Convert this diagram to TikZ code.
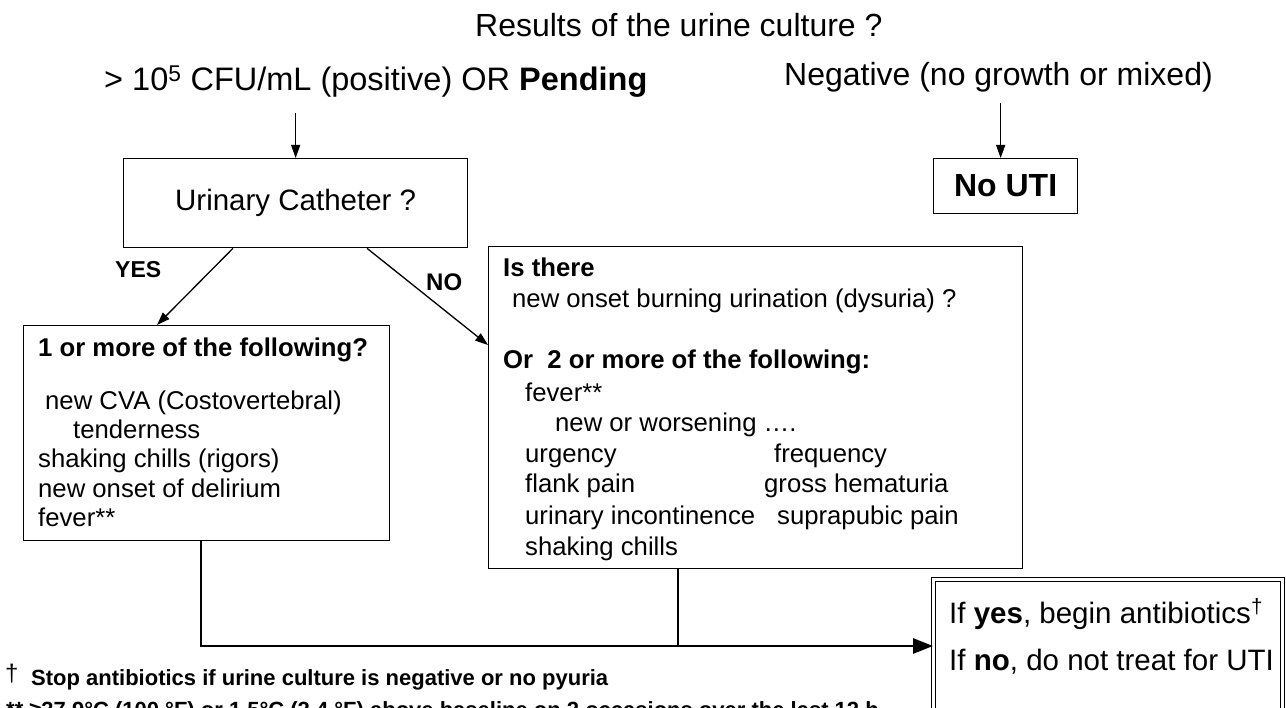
\documentclass[tikz,border=0pt]{standalone}
\usepackage{fontspec}
\setmainfont{Liberation Sans}
\usetikzlibrary{arrows.meta,positioning}

\newcommand{\headsize}{\fontsize{32}{36}\selectfont}
\newcommand{\mainsize}{\fontsize{29.5}{34}\selectfont}
\newcommand{\bodysize}{\fontsize{25.7}{30}\selectfont}
\newcommand{\notesize}{\fontsize{22}{26}\selectfont}

\begin{document}
\begin{tikzpicture}[x=1pt,y=-1pt]
	% Define styles
	\tikzstyle{box} = [rectangle, draw, line width=1.3pt, anchor=north west, inner sep=0pt]
	\tikzstyle{item} = [inner sep=0pt, anchor=base west, font=\bodysize]
	\tikzstyle{head} = [item, font=\bodysize\bfseries]
	\tikzstyle{arrow} = [line width=1.3pt, -{Triangle[length=13pt,width=9pt]}]
	\tikzstyle{link} = [line width=2.8pt]
	
	\useasboundingbox (0,0) rectangle (1286,708);
	
	% Question and culture results
	\node [inner sep=0pt, anchor=base west, font=\headsize] (question) at (475,37) {Results of the urine culture ?};
	\node [inner sep=0pt, anchor=base west, font=\fontsize{32.5}{36}\selectfont] (positive) at (104,91) {> 10\textsuperscript{5} CFU/mL (positive) OR \textbf{Pending}};
	\node [inner sep=0pt, anchor=base east, font=\headsize] (negative) at (1213,86) {Negative (no growth or mixed)};
	
	% Place boxes
	\node [box, minimum width=344pt, minimum height=89pt, font=\mainsize] (catheter) at (123,158) {Urinary Catheter ?};
	\node [box, minimum width=144pt, minimum height=55pt, font=\headsize\bfseries] (nouti) at (933,158) {No UTI};
	\node [box, minimum width=366pt, minimum height=215pt] (catbox) at (23,325) {};
	\node [box, minimum width=534pt, minimum height=322pt] (nocatbox) at (488,246) {};
	\node [box, double, double distance=3pt, line width=1.2pt, minimum width=349pt, minimum height=160pt] (treat) at (933,579) {};
	
	% Labels of the branches
	\node [inner sep=0pt, anchor=base west, font=\fontsize{23}{26}\selectfont\bfseries] (yes) at (115,278) {YES};
	\node [inner sep=0pt, anchor=base west, font=\fontsize{24}{27}\selectfont\bfseries] (no) at (426,291) {NO};
	
	% Catheter: 1 or more
	\node [head] (cathead) at (38,357) {1 or more of the following?};
	\foreach \t/\x/\y [count=\i] in {new CVA (Costovertebral)/45/410, tenderness/73/439,
		shaking chills (rigors)/38/468, new onset of delirium/38/497, fever**/38/526}
		\node [item] (catline\i) at (\x,\y) {\t};
	
	% No catheter: dysuria or 2 or more
	\node [head] (nocathead) at (503,277) {Is there};
	\node [item] (dysuria) at (512,308) {new onset burning urination (dysuria) ?};
	\node [head] (nocatmore) at (503,369) {Or\ \ 2 or more of the following:};
	\foreach \t/\x/\y [count=\i] in {fever**/525/402, new or worsening ….\,/555/432,
		urgency/525/463, frequency/774/463, flank pain/525/493, gross hematuria/764/493,
		urinary incontinence/525/525, suprapubic pain/777/525, shaking chills/525/555}
		\node [item] (nocatline\i) at (\x,\y) {\t};
	
	% Treatment
	\node [inner sep=0pt, anchor=base west, font=\mainsize] (ifyes) at (949,623) {If \textbf{yes}, begin antibiotics\textsuperscript{†}};
	\node [inner sep=0pt, anchor=base west, font=\mainsize] (ifno) at (949,670) {If \textbf{no}, do not treat for UTI};
	
	% Footnotes
	\node [inner sep=0pt, anchor=base west, font=\fontsize{24}{26}\selectfont] (dagger) at (5,681) {†};
	\node [inner sep=0pt, anchor=base west, font=\notesize\bfseries] (stopnote) at (31,685) {Stop antibiotics if urine culture is negative or no pyuria};
	\node [inner sep=0pt, anchor=base west, font=\notesize\bfseries] (fevernote) at (6,717) {** ≥37.9°C (100 °F) or 1.5°C (2.4 °F) above baseline on 2 occasions over the last 12 h};
	
	% Join points
	\coordinate (join) at ([yshift=-67pt]treat.north west);
	\coordinate (catdrop) at ([xshift=178pt]catbox.south west);
	\coordinate (nocatdrop) at ([xshift=190pt]nocatbox.south west);
	
	% Draw arrows
	\draw [arrow] ([yshift=-15pt]catheter.north |- positive.south) -- (catheter.north);
	\draw [arrow] ([xshift=-5pt,yshift=-10pt]nouti.north |- negative.south) -- ([xshift=-5pt]nouti.north);
	\draw [arrow] ([xshift=110pt]catheter.south west) -- ([xshift=134pt]catbox.north west);
	\draw [arrow] ([xshift=244pt]catheter.south west) -- ([yshift=-99pt]nocatbox.north west);
	\draw [link] (catdrop) |- (nocatdrop |- join);
	\draw [link] (nocatdrop) -- (nocatdrop |- join);
	\draw [link, -{Triangle[length=20pt,width=15pt]}] (nocatdrop |- join) -- (join);
\end{tikzpicture}
\end{document}
